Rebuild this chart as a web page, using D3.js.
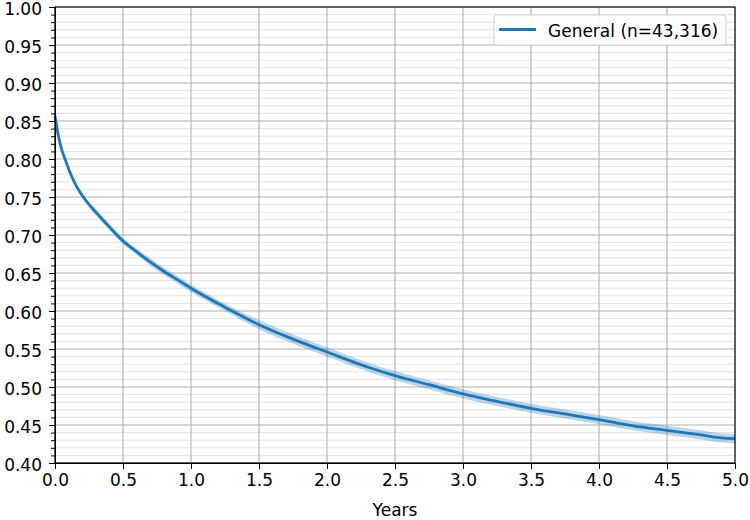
<!DOCTYPE html>
<html>
<head>
<meta charset="utf-8">
<script src="https://cdn.jsdelivr.net/npm/d3@7"></script>
<style>
  body { margin: 0; background: #fff; }
  svg { display: block; font-family: "DejaVu Sans", sans-serif; }
</style>
</head>
<body>
<svg id="chart" width="750" height="520"></svg>
<script>
// survival curve
const years = [0, 0.02, 0.045, 0.074, 0.1, 0.15, 0.208, 0.3, 0.38, 0.45, 0.5, 0.6, 0.7, 0.81, 0.92, 1.0,
  1.25, 1.5, 1.75, 2.0, 2.32, 2.5, 2.75, 3.0, 3.25, 3.5, 3.75, 4.0, 4.25, 4.5, 4.75, 4.9, 5.0];
const survival = [0.857, 0.835, 0.815, 0.800, 0.787, 0.767, 0.750, 0.730, 0.7145, 0.701, 0.692, 0.678, 0.6645, 0.651, 0.639, 0.630,
  0.605, 0.582, 0.563, 0.546, 0.525, 0.515, 0.503, 0.491, 0.481, 0.472, 0.4645, 0.457, 0.449, 0.443, 0.437, 0.433, 0.432];
const ciHalf = [0.001, 0.002, 0.002, 0.002, 0.003, 0.003, 0.003, 0.004, 0.004, 0.004, 0.004, 0.004, 0.005, 0.005, 0.005, 0.005,
  0.005, 0.006, 0.006, 0.006, 0.006, 0.006, 0.006, 0.006, 0.006, 0.006, 0.006, 0.006, 0.006, 0.006, 0.006, 0.006, 0.006];
const xTicks = [0, 0.5, 1, 1.5, 2, 2.5, 3, 3.5, 4, 4.5, 5];
const yTicks = [0.40, 0.45, 0.50, 0.55, 0.60, 0.65, 0.70, 0.75, 0.80, 0.85, 0.90, 0.95, 1.00];
const legendLabel = "General (n=43,316)";
const xLabel = "Years";

const svg = d3.select("#chart"),
  margin = { top: 7, right: 15, bottom: 57, left: 55 },
  width = +svg.attr("width") - margin.left - margin.right,
  height = +svg.attr("height") - margin.top - margin.bottom;

const blue = "#1f77b4";
const g = svg.append("g").attr("transform", `translate(${margin.left},${margin.top})`);

const x = d3.scaleLinear().domain([0, 5]).range([0, width]);
const y = d3.scaleLinear().domain([0.4, 1.0]).range([height, 0]);

const minorY = d3.range(40, 101).map(d => d / 100).filter(d => Math.round(d * 100) % 5 !== 0);

// minor horizontal grid
g.append("g").selectAll("line").data(minorY).join("line")
  .attr("x1", 0).attr("x2", width)
  .attr("y1", d => y(d)).attr("y2", d => y(d))
  .attr("stroke", "#e3e3e3").attr("stroke-width", 1);

// major grid
g.append("g").selectAll("line").data(yTicks).join("line")
  .attr("x1", 0).attr("x2", width)
  .attr("y1", d => y(d)).attr("y2", d => y(d))
  .attr("stroke", "#b0b0b0").attr("stroke-width", 1.1);
g.append("g").selectAll("line").data(xTicks).join("line")
  .attr("x1", d => x(d)).attr("x2", d => x(d))
  .attr("y1", 0).attr("y2", height)
  .attr("stroke", "#b0b0b0").attr("stroke-width", 1.1);

const data = years.map((t, i) => ({ t, s: survival[i], lo: survival[i] - ciHalf[i], hi: survival[i] + ciHalf[i] }));

g.append("path").datum(data)
  .attr("fill", blue).attr("fill-opacity", 0.3)
  .attr("d", d3.area().x(d => x(d.t)).y0(d => y(d.lo)).y1(d => y(d.hi)).curve(d3.curveMonotoneX));

g.append("path").datum(data)
  .attr("fill", "none").attr("stroke", blue).attr("stroke-width", 2.8)
  .attr("d", d3.line().x(d => x(d.t)).y(d => y(d.s)).curve(d3.curveMonotoneX));

// axes
const xAxis = g.append("g").attr("transform", `translate(0,${height})`)
  .call(d3.axisBottom(x).tickValues(xTicks).tickFormat(d3.format(".1f")).tickSize(6).tickPadding(5));
const yAxis = g.append("g")
  .call(d3.axisLeft(y).tickValues(yTicks).tickFormat(d3.format(".2f")).tickSize(6).tickPadding(7));
yAxis.selectAll("text").attr("dy", "0.42em");
g.append("g")
  .call(d3.axisLeft(y).tickValues(minorY).tickFormat("").tickSize(4))
  .call(a => a.select(".domain").remove());

[xAxis, yAxis].forEach(a => {
  a.selectAll("text").attr("font-size", "17px").attr("fill", "#000").attr("font-family", "DejaVu Sans");
  a.select(".domain").attr("stroke", "#000");
});
g.selectAll(".tick line").attr("stroke", "#000");

// box spines
g.append("rect").attr("width", width).attr("height", height)
  .attr("fill", "none").attr("stroke", "#000").attr("stroke-width", 1.1);

svg.append("text")
  .attr("x", margin.left + width / 2).attr("y", 516)
  .attr("text-anchor", "middle").attr("font-size", "17px")
  .text(xLabel);

// legend
const leg = svg.append("g").attr("transform", "translate(494,15)");
leg.append("rect").attr("width", 232).attr("height", 30).attr("rx", 3)
  .attr("fill", "#fff").attr("fill-opacity", 0.9).attr("stroke", "#d6d6d6");
leg.append("line").attr("x1", 5).attr("x2", 42).attr("y1", 14.5).attr("y2", 14.5)
  .attr("stroke", blue).attr("stroke-width", 2.8);
leg.append("text").attr("x", 54).attr("y", 21.5).attr("font-size", "17px").text(legendLabel);
</script>
</body>
</html>
